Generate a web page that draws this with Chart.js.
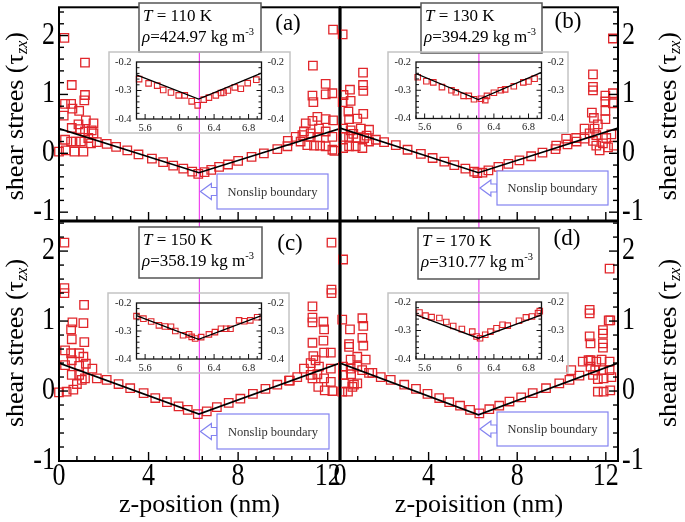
<!DOCTYPE html>
<html>
<head>
<meta charset="utf-8">
<script src="https://cdn.jsdelivr.net/npm/chart.js@4.4.0/dist/chart.umd.min.js"></script>
<style>
  html, body { margin: 0; padding: 0; background: #fff; }
  #wrap { position: relative; width: 685px; height: 522px; overflow: hidden; }
  #wrap canvas { position: absolute; left: 0; top: 0; }
</style>
</head>
<body>
<div id="wrap"></div>
<script>
// tick labels, text
const zTicks = [0, 4, 8, 12];
const tauTicks = [-1, 0, 1, 2];
const zoomZTicks = [5.6, 6, 6.4, 6.8];
const zoomTauTicks = [-0.4, -0.3, -0.2];
const temperatures = ['110', '130', '150', '170'];
const densities = ['424.97', '394.29', '358.19', '310.77'];
const panelTags = ['(a)', '(b)', '(c)', '(d)'];
const xTitles = ['z-position (nm)', 'z-poisition (nm)'];
const wallZ = 6.27;      // nonslip boundary, main panels

// shear stress profiles [z, tau]
const stressA = [
  [0.24,1.96],[1.16,1.54],[0.57,1.16],[1.16,0.99],[1.13,0.90],[0.27,0.84],[0.54,0.84],[0.6,0.76],[0.9,0.72],[0.21,0.64],
  [1.2,0.56],[1.54,0.51],[0.87,0.49],[0.57,0.43],[0.94,0.41],[1.46,0.39],[1.16,0.37],[1.54,0.34],[0.27,0.23],[0.54,0.2],
  [0.75,0.2],[0.98,0.2],[1.31,0.26],[1.43,0.17],[1.69,0.19],[0,0.03],[0.3,0.05],[0.69,0.03],[1.09,0.03],
  [2.13,0.16],[2.55,0.11],[3.05,0.05],[3.55,-0.02],[4.15,-0.09],[4.65,-0.15],[5.1,-0.21],[5.55,-0.26],[5.95,-0.31],[6.22,-0.35],
  [6.5,-0.32],[6.8,-0.28],[7.15,-0.23],[7.55,-0.19],[8.0,-0.13],[8.6,-0.06],[9.15,0.0],[9.75,0.07],[10.2,0.12],
  [12.24,2.1],[11.34,1.49],[11.91,1.18],[11.32,0.98],[11.36,0.87],[11.91,1.0],[12.21,1.02],[11.54,0.62],[11.32,0.55],[11.02,0.51],
  [11.91,0.58],[12.24,0.56],[10.94,0.37],[11.24,0.34],[11.61,0.42],[11.91,0.37],[12.21,0.28],[10.57,0.28],[10.87,0.31],[10.22,0.21],
  [11.24,0.28],[11.54,0.27],[10.79,0.2],[11.09,0.14],[11.39,0.13],[11.66,0.13],[11.91,0.12],[12.21,0.06],[12.3,0.04]
];
const stressB = [
  [0.12,2.02],[1.04,1.37],[1.04,1.16],[1.05,1.06],[0.45,1.08],[0.16,0.99],[0.12,0.87],[0.48,0.89],[0.38,0.71],[0.41,0.58],
  [0.78,0.59],[1.05,0.67],[0.14,0.42],[0.48,0.39],[0.94,0.42],[1.31,0.40],[0.41,0.28],[0.74,0.26],[1.09,0.26],[0.14,0.09],
  [0.41,0.12],[0.71,0.12],[1.01,0.09],[1.31,0.2],[1.62,0.23],[0.14,0.28],[0.6,0.33],[1.2,0.3],
  [1.99,0.19],[2.52,0.14],[3.05,0.06],[3.65,-0.01],[4.18,-0.08],[4.71,-0.14],[5.16,-0.2],[5.66,-0.26],[6.06,-0.31],[6.2,-0.335],
  [6.43,-0.33],[6.7,-0.29],[7.15,-0.23],[7.6,-0.18],[8.1,-0.12],[8.63,-0.05],[9.14,0.01],[9.73,0.07],[10.27,0.15],[10.68,0.2],
  [12.32,1.95],[11.42,1.34],[11.42,1.13],[11.42,1.07],[11.98,0.98],[12.32,1.02],[11.98,0.88],[12.32,0.85],[11.98,0.72],[11.37,0.69],
  [11.46,0.6],[11.98,0.58],[11.04,0.42],[11.64,0.49],[11.49,0.42],[11.27,0.34],[11.57,0.31],[12.25,0.32],[10.66,0.26],[11.04,0.25],
  [11.42,0.21],[12.02,0.26],[11.57,0.13],[11.87,0.17],[11.72,0.05],[12.1,0.1],[12.37,0.13],[10.21,0.25],[9.76,0.13]
];
const stressC = [
  [0.24,2.12],[0.24,1.47],[0.24,1.40],[1.12,1.23],[0.6,0.98],[1.09,0.97],[0.54,0.88],[0.57,0.74],[1.13,0.70],[0.27,0.58],
  [0.54,0.54],[0.9,0.54],[1.09,0.49],[0.57,0.44],[0.9,0.36],[1.2,0.39],[1.49,0.32],[0.27,0.37],[0.57,0.23],[0.9,0.23],
  [1.16,0.18],[1.02,0.16],[1.69,0.18],[0,-0.02],[0.34,-0.01],[0.64,0.02],[0.8,0.1],
  [2.13,0.16],[2.66,0.1],[3.18,0.04],[3.78,-0.03],[4.3,-0.1],[4.82,-0.16],[5.34,-0.22],[5.75,-0.27],[6.2,-0.33],
  [6.6,-0.29],[7.05,-0.23],[7.58,-0.17],[8.1,-0.11],[8.66,-0.04],[9.22,0.03],[10.27,0.15],
  [12.17,2.12],[12.17,1.45],[12.17,1.40],[11.32,1.21],[11.32,1.05],[11.32,0.98],[11.81,0.99],[11.84,0.88],[11.32,0.69],[11.81,0.72],
  [12.14,0.55],[11.84,0.55],[11.36,0.50],[11.46,0.44],[11.24,0.40],[10.94,0.32],[11.61,0.35],[12.14,0.32],[11.24,0.23],[11.54,0.24],
  [11.32,0.18],[11.84,0.18],[12.14,0.13],[11.58,0.06],[11.87,0.01],[12.21,0.0],[10.64,0.2],[10.31,0.15],[9.75,0.09]
];
const stressD = [
  [0.14,1.88],[0.1,1.02],[0.45,0.88],[1.01,1.04],[1.05,0.93],[1.01,0.76],[0.41,0.67],[0.41,0.63],[1.05,0.65],[0.78,0.49],
  [0.48,0.45],[1.16,0.45],[0.14,0.35],[0.48,0.32],[0.78,0.35],[1.31,0.26],[1.46,0.26],[0.14,0.23],[0.5,0.24],[0.18,0.11],
  [0.78,0.11],[0.56,0.06],[0.36,-0.01],[0.1,-0.01],[1.84,0.2],[0.63,0.09],[1.0,0.3],
  [2.29,0.16],[2.9,0.09],[3.43,0.03],[3.95,-0.04],[4.48,-0.1],[4.93,-0.16],[5.42,-0.21],[5.87,-0.27],[6.29,-0.32],
  [6.74,-0.26],[7.19,-0.21],[7.65,-0.15],[8.18,-0.09],[8.7,-0.03],[9.3,0.04],[9.9,0.11],[10.36,0.16],[10.81,0.22],
  [12.17,1.75],[11.27,1.16],[11.27,1.11],[12.13,1.01],[12.2,1.01],[11.87,0.87],[11.87,0.82],[11.27,0.78],[11.31,0.68],[11.87,0.68],
  [11.87,0.62],[11.22,0.44],[11.31,0.44],[11.57,0.42],[11.81,0.45],[12.17,0.42],[10.96,0.42],[11.31,0.35],[11.52,0.30],[11.87,0.30],
  [12.17,0.30],[11.42,0.23],[11.64,0.17],[11.9,0.18],[12.25,0.20],[11.64,-0.01],[11.9,-0.01],[12.2,0.01],[10.44,0.30]
];

// linear fits
const fitA = [[0,0.42],[6.25,-0.33],[12.55,0.42]];
const fitB = [[0,0.43],[6.25,-0.33],[12.55,0.43]];
const fitC = [[0,0.40],[6.25,-0.33],[12.55,0.40]];
const fitD = [[0,0.40],[6.25,-0.34],[12.55,0.40]];

// inset (zoom near the boundary)
const zoomA = [[5.53,-0.26],[5.64,-0.275],[5.74,-0.283],[5.81,-0.298],[5.9,-0.307],[5.99,-0.317],[6.06,-0.317],[6.14,-0.338],[6.21,-0.352],
  [6.28,-0.332],[6.34,-0.325],[6.42,-0.317],[6.48,-0.309],[6.51,-0.307],[6.56,-0.30],[6.64,-0.289],[6.71,-0.294],[6.79,-0.274],[6.89,-0.262]];
const zoomB = [[5.52,-0.254],[5.62,-0.268],[5.70,-0.272],[5.80,-0.289],[5.91,-0.30],[5.96,-0.307],[6.05,-0.32],[6.11,-0.32],[6.17,-0.332],
  [6.25,-0.33],[6.30,-0.335],[6.32,-0.32],[6.40,-0.309],[6.48,-0.30],[6.53,-0.297],[6.63,-0.286],[6.74,-0.272],[6.80,-0.269],[6.87,-0.259]];
const zoomC = [[5.50,-0.247],[5.58,-0.256],[5.67,-0.266],[5.76,-0.28],[5.83,-0.284],[5.90,-0.285],[5.95,-0.30],[6.04,-0.315],[6.11,-0.312],
  [6.14,-0.321],[6.18,-0.327],[6.25,-0.322],[6.34,-0.312],[6.41,-0.304],[6.48,-0.292],[6.54,-0.292],[6.59,-0.292],[6.69,-0.262],[6.75,-0.265],
  [6.82,-0.262],[6.90,-0.251]];
const zoomD = [[5.54,-0.237],[5.61,-0.248],[5.68,-0.253],[5.77,-0.256],[5.85,-0.27],[5.93,-0.284],[6.03,-0.295],[6.15,-0.304],[6.20,-0.321],
  [6.24,-0.327],[6.30,-0.315],[6.36,-0.304],[6.43,-0.292],[6.50,-0.28],[6.56,-0.283],[6.69,-0.266],[6.77,-0.254],[6.84,-0.251],[6.91,-0.239],[6.93,-0.232]];
const zoomFitA = [[5.5,-0.245],[6.22,-0.33],[6.95,-0.239]];
const zoomFitB = [[5.5,-0.241],[6.22,-0.333],[6.95,-0.237]];
const zoomFitC = [[5.5,-0.245],[6.22,-0.33],[6.95,-0.245]];
const zoomFitD = [[5.5,-0.245],[6.22,-0.327],[6.95,-0.245]];

const RED = '#e1262b';
const MAGENTA = '#f046f0';
const SERIF = '"Liberation Serif", "DejaVu Serif", serif';
const W = 685, H = 522;

// page layout (pixels)
const panels = [
  { stress: stressA, fit: fitA, zoom: zoomA, zoomFit: zoomFitA, box: [59, 3, 340, 221], yr: [-1.15, 2.48], side: 'left', xLabels: false,
    textBox: [139, 3, 261, 52], tag: [288, 24], note: [217, 174, 328, 209], frame: [109, 52, 290, 133], area: [136.5, 62, 261.5, 119] },
  { stress: stressB, fit: fitB, zoom: zoomB, zoomFit: zoomFitB, box: [340, 3, 618, 221], yr: [-1.15, 2.48], side: 'right', xLabels: false,
    textBox: [421, 3, 542, 53], tag: [568, 22], note: [497, 171, 608, 205], frame: [388, 52, 568, 133], area: [416, 62, 541.5, 118.5] },
  { stress: stressC, fit: fitC, zoom: zoomC, zoomFit: zoomFitC, box: [59, 221, 340, 461], yr: [-1, 2.43], side: 'left', xLabels: true,
    textBox: [139, 227, 262, 278], tag: [290, 244], note: [217, 414, 329, 449], frame: [108, 293, 289, 373], area: [136.5, 303, 261.5, 359] },
  { stress: stressD, fit: fitD, zoom: zoomD, zoomFit: zoomFitD, box: [340, 221, 618, 461], yr: [-1, 2.43], side: 'right', xLabels: true,
    textBox: [418, 228, 539, 279], tag: [567, 239], note: [497, 412, 608, 446], frame: [388, 293, 568, 373], area: [416, 302, 541.5, 359] }
];

const wrap = document.getElementById('wrap');
function addCanvas() {
  const c = document.createElement('canvas');
  c.width = W; c.height = H;
  c.style.width = W + 'px'; c.style.height = H + 'px';
  wrap.appendChild(c);
  return c;
}
const pts = arr => arr.map(([x, y]) => ({ x, y }));

function seg(ctx, x1, y1, x2, y2) {
  ctx.beginPath(); ctx.moveTo(x1, y1); ctx.lineTo(x2, y2); ctx.stroke();
}
// text made of pieces: [text, style] style: '', 'italic', 'sup', 'sub'
function rich(ctx, parts, x, y, size) {
  let cx = x;
  for (const [t, st] of parts) {
    let s = size, dy = 0, f = '';
    if (st === 'italic') f = 'italic ';
    if (st === 'sup') { s = size * 0.62; dy = -size * 0.42; }
    if (st === 'sub') { s = size * 0.62; dy = size * 0.25; f = 'italic '; }
    ctx.font = f + s + 'px ' + SERIF;
    ctx.fillText(t, cx, y + dy);
    cx += ctx.measureText(t).width;
  }
  return cx - x;
}
function richWidth(ctx, parts, size) {
  let w = 0;
  for (const [t, st] of parts) {
    const s = (st === 'sup' || st === 'sub') ? size * 0.62 : size;
    ctx.font = ((st === 'italic' || st === 'sub') ? 'italic ' : '') + s + 'px ' + SERIF;
    w += ctx.measureText(t).width;
  }
  return w;
}
const yTitle = [['shear strees (τ', ''], ['zx', 'sub'], [')', '']];

function decoPlugin(i) {
  const P = panels[i];
  return {
    id: 'deco' + i,
    afterDatasetsDraw(chart) {
      const { ctx, chartArea: a } = chart;
      const xs = chart.scales.x, ys = chart.scales.y;
      ctx.save();
      ctx.strokeStyle = '#000';
      // inward ticks
      ctx.lineWidth = 1.4;
      const sx = P.side === 'left' ? a.left : a.right;
      const dir = P.side === 'left' ? 1 : -1;
      for (let k = -5; k <= 12; k++) {
        const v = k * 0.2;
        const py = ys.getPixelForValue(v);
        if (py < a.top + 2 || py > a.bottom - 2) continue;
        seg(ctx, sx, py, sx + dir * (k % 5 === 0 ? 9 : 5), py);
      }
      for (let k = 1; k <= 15; k++) {
        const px = xs.getPixelForValue(k * 0.8);
        if (px > a.right - 2) continue;
        seg(ctx, px, a.bottom, px, a.bottom - (k % 5 === 0 ? 9 : 5));
      }
      // frame
      ctx.lineWidth = 2;
      ctx.strokeRect(a.left, a.top, a.right - a.left, a.bottom - a.top);
      ctx.lineWidth = 3.2;
      if (P.side === 'left') seg(ctx, a.right, a.top, a.right, a.bottom);
      if (i >= 2) seg(ctx, a.left, a.top, a.right, a.top);

      // tick labels (slightly tall serif digits)
      ctx.fillStyle = '#000';
      ctx.font = '26px ' + SERIF;
      ctx.textBaseline = 'middle';
      ctx.textAlign = P.side === 'left' ? 'right' : 'left';
      for (const v of tauTicks) {
        const py = ys.getPixelForValue(v);
        ctx.save();
        ctx.translate(P.side === 'left' ? a.left - 4 : a.right + 4, py);
        ctx.scale(1, 1.18);
        ctx.fillText(String(v), 0, 0);
        ctx.restore();
      }
      if (P.xLabels) {
        ctx.textAlign = 'center';
        for (const v of zTicks) {
          ctx.save();
          ctx.translate(xs.getPixelForValue(v), a.bottom + 16);
          ctx.scale(1, 1.18);
          ctx.fillText(String(v), 0, 0);
          ctx.restore();
        }
        ctx.font = '26px ' + SERIF;
        ctx.fillText(xTitles[i - 2], (a.left + a.right) / 2, 505);
      }
      // y title, rotated
      ctx.save();
      const tx = P.side === 'left' ? 16 : 669;
      ctx.translate(tx, (a.top + a.bottom) / 2 + 2);
      ctx.rotate(-Math.PI / 2);
      ctx.textAlign = 'left';
      ctx.textBaseline = 'middle';
      const tw = richWidth(ctx, yTitle, 26);
      rich(ctx, yTitle, -tw / 2, 0, 26);
      ctx.restore();

      // temperature / density box
      const tb = P.textBox;
      ctx.fillStyle = '#fff';
      ctx.fillRect(tb[0], tb[1], tb[2] - tb[0], tb[3] - tb[1]);
      ctx.strokeStyle = '#555';
      ctx.lineWidth = 1.5;
      ctx.strokeRect(tb[0], tb[1], tb[2] - tb[0], tb[3] - tb[1]);
      ctx.fillStyle = '#000';
      ctx.textAlign = 'left';
      ctx.textBaseline = 'alphabetic';
      rich(ctx, [['T', 'italic'], [' = ' + temperatures[i] + ' K', '']], tb[0] + 4, tb[1] + 18, 17);
      rich(ctx, [['ρ', 'italic'], ['=' + densities[i] + ' kg m', ''], ['-3', 'sup']], tb[0] + 3, tb[1] + 39, 17);

      // panel tag
      ctx.font = '23px ' + SERIF;
      ctx.textAlign = 'center';
      ctx.textBaseline = 'middle';
      ctx.fillText(panelTags[i], P.tag[0], P.tag[1]);

      // nonslip note + hollow arrow
      const nb = P.note;
      const cy = (nb[1] + nb[3]) / 2;
      const tip = xs.getPixelForValue(wallZ) + 1;
      ctx.strokeStyle = '#8383f0';
      ctx.lineWidth = 1.2;
      ctx.fillStyle = '#fff';
      ctx.beginPath();
      ctx.moveTo(tip, cy);
      ctx.lineTo(tip + 11, cy - 8);
      ctx.lineTo(tip + 11, cy - 4);
      ctx.lineTo(nb[0], cy - 4);
      ctx.lineTo(nb[0], cy + 4);
      ctx.lineTo(tip + 11, cy + 4);
      ctx.lineTo(tip + 11, cy + 8);
      ctx.closePath();
      ctx.fill(); ctx.stroke();
      ctx.fillRect(nb[0], nb[1], nb[2] - nb[0], nb[3] - nb[1]);
      ctx.strokeRect(nb[0], nb[1], nb[2] - nb[0], nb[3] - nb[1]);
      ctx.fillStyle = '#333';
      ctx.font = '12.5px ' + SERIF;
      ctx.fillText('Nonslip boundary', (nb[0] + nb[2]) / 2, cy + 1);
      ctx.restore();
    }
  };
}

function insetPlugin(i) {
  const P = panels[i];
  return {
    id: 'inset' + i,
    afterDatasetsDraw(chart) {
      const { ctx, chartArea: a } = chart;
      const xs = chart.scales.x, ys = chart.scales.y;
      const f = P.frame;
      ctx.save();
      ctx.strokeStyle = '#c4c4c4';
      ctx.lineWidth = 1.5;
      ctx.strokeRect(f[0], f[1], f[2] - f[0], f[3] - f[1]);
      ctx.strokeStyle = '#111';
      ctx.lineWidth = 1;
      for (let k = 0; k <= 14; k++) {
        const v = 5.5 + k * 0.1;
        const px = xs.getPixelForValue(v);
        const major = zoomZTicks.some(t => Math.abs(t - v) < 1e-6);
        seg(ctx, px, a.bottom, px, a.bottom - (major ? 5 : 3));
      }
      for (let k = 1; k < 10; k++) {
        const py = ys.getPixelForValue(-0.4 + k * 0.02);
        const l = k === 5 ? 5 : 3;
        seg(ctx, a.left, py, a.left + l, py);
        seg(ctx, a.right, py, a.right - l, py);
      }
      ctx.lineWidth = 1.3;
      ctx.strokeRect(a.left, a.top, a.right - a.left, a.bottom - a.top);
      ctx.fillStyle = '#222';
      ctx.font = '10.5px ' + SERIF;
      ctx.textBaseline = 'middle';
      for (const v of zoomTauTicks) {
        const py = ys.getPixelForValue(v);
        ctx.textAlign = 'right';
        ctx.fillText(String(v), a.left - 5, py);
        ctx.textAlign = 'left';
        ctx.fillText(String(v), a.right + 6, py);
      }
      ctx.textAlign = 'center';
      for (const v of zoomZTicks) ctx.fillText(String(v), xs.getPixelForValue(v), a.bottom + 9);
      ctx.restore();
    }
  };
}

const baseOptions = (pad, xr, yr) => ({
  responsive: false,
  animation: false,
  devicePixelRatio: 1,
  events: [],
  layout: { padding: pad },
  plugins: { legend: { display: false }, tooltip: { enabled: false } },
  scales: {
    x: { type: 'linear', display: false, min: xr[0], max: xr[1] },
    y: { type: 'linear', display: false, min: yr[0], max: yr[1] }
  }
});

// main panels
panels.forEach((P, i) => {
  const b = P.box;
  new Chart(addCanvas(), {
    type: 'scatter',
    data: {
      datasets: [
        { data: pts(P.fit), showLine: true, borderColor: '#000', borderWidth: 1.7, pointRadius: 0 },
        { data: pts(P.stress), pointStyle: 'rect', pointRadius: 6, borderColor: RED, borderWidth: 1.3,
          backgroundColor: 'rgba(0,0,0,0)', clip: false },
        { data: [{ x: wallZ, y: P.yr[0] }, { x: wallZ, y: P.yr[1] }], showLine: true, borderColor: MAGENTA,
          borderWidth: 1.2, pointRadius: 0 }
      ]
    },
    options: baseOptions({ left: b[0], top: b[1], right: W - b[2], bottom: H - b[3] }, [0, 12.55], P.yr),
    plugins: [decoPlugin(i)]
  });
});

// insets
panels.forEach((P, i) => {
  const r = P.area;
  new Chart(addCanvas(), {
    type: 'scatter',
    data: {
      datasets: [
        { data: pts(P.zoomFit), showLine: true, borderColor: '#000', borderWidth: 1.3, pointRadius: 0 },
        { data: pts(P.zoom), pointStyle: 'rect', pointRadius: 3.9, borderColor: RED, borderWidth: 1.1,
          backgroundColor: 'rgba(0,0,0,0)', clip: false }
      ]
    },
    options: baseOptions({ left: r[0], top: r[1], right: W - r[2], bottom: H - r[3] }, [5.5, 6.95], [-0.4, -0.2]),
    plugins: [insetPlugin(i)]
  });
});
</script>
</body>
</html>
